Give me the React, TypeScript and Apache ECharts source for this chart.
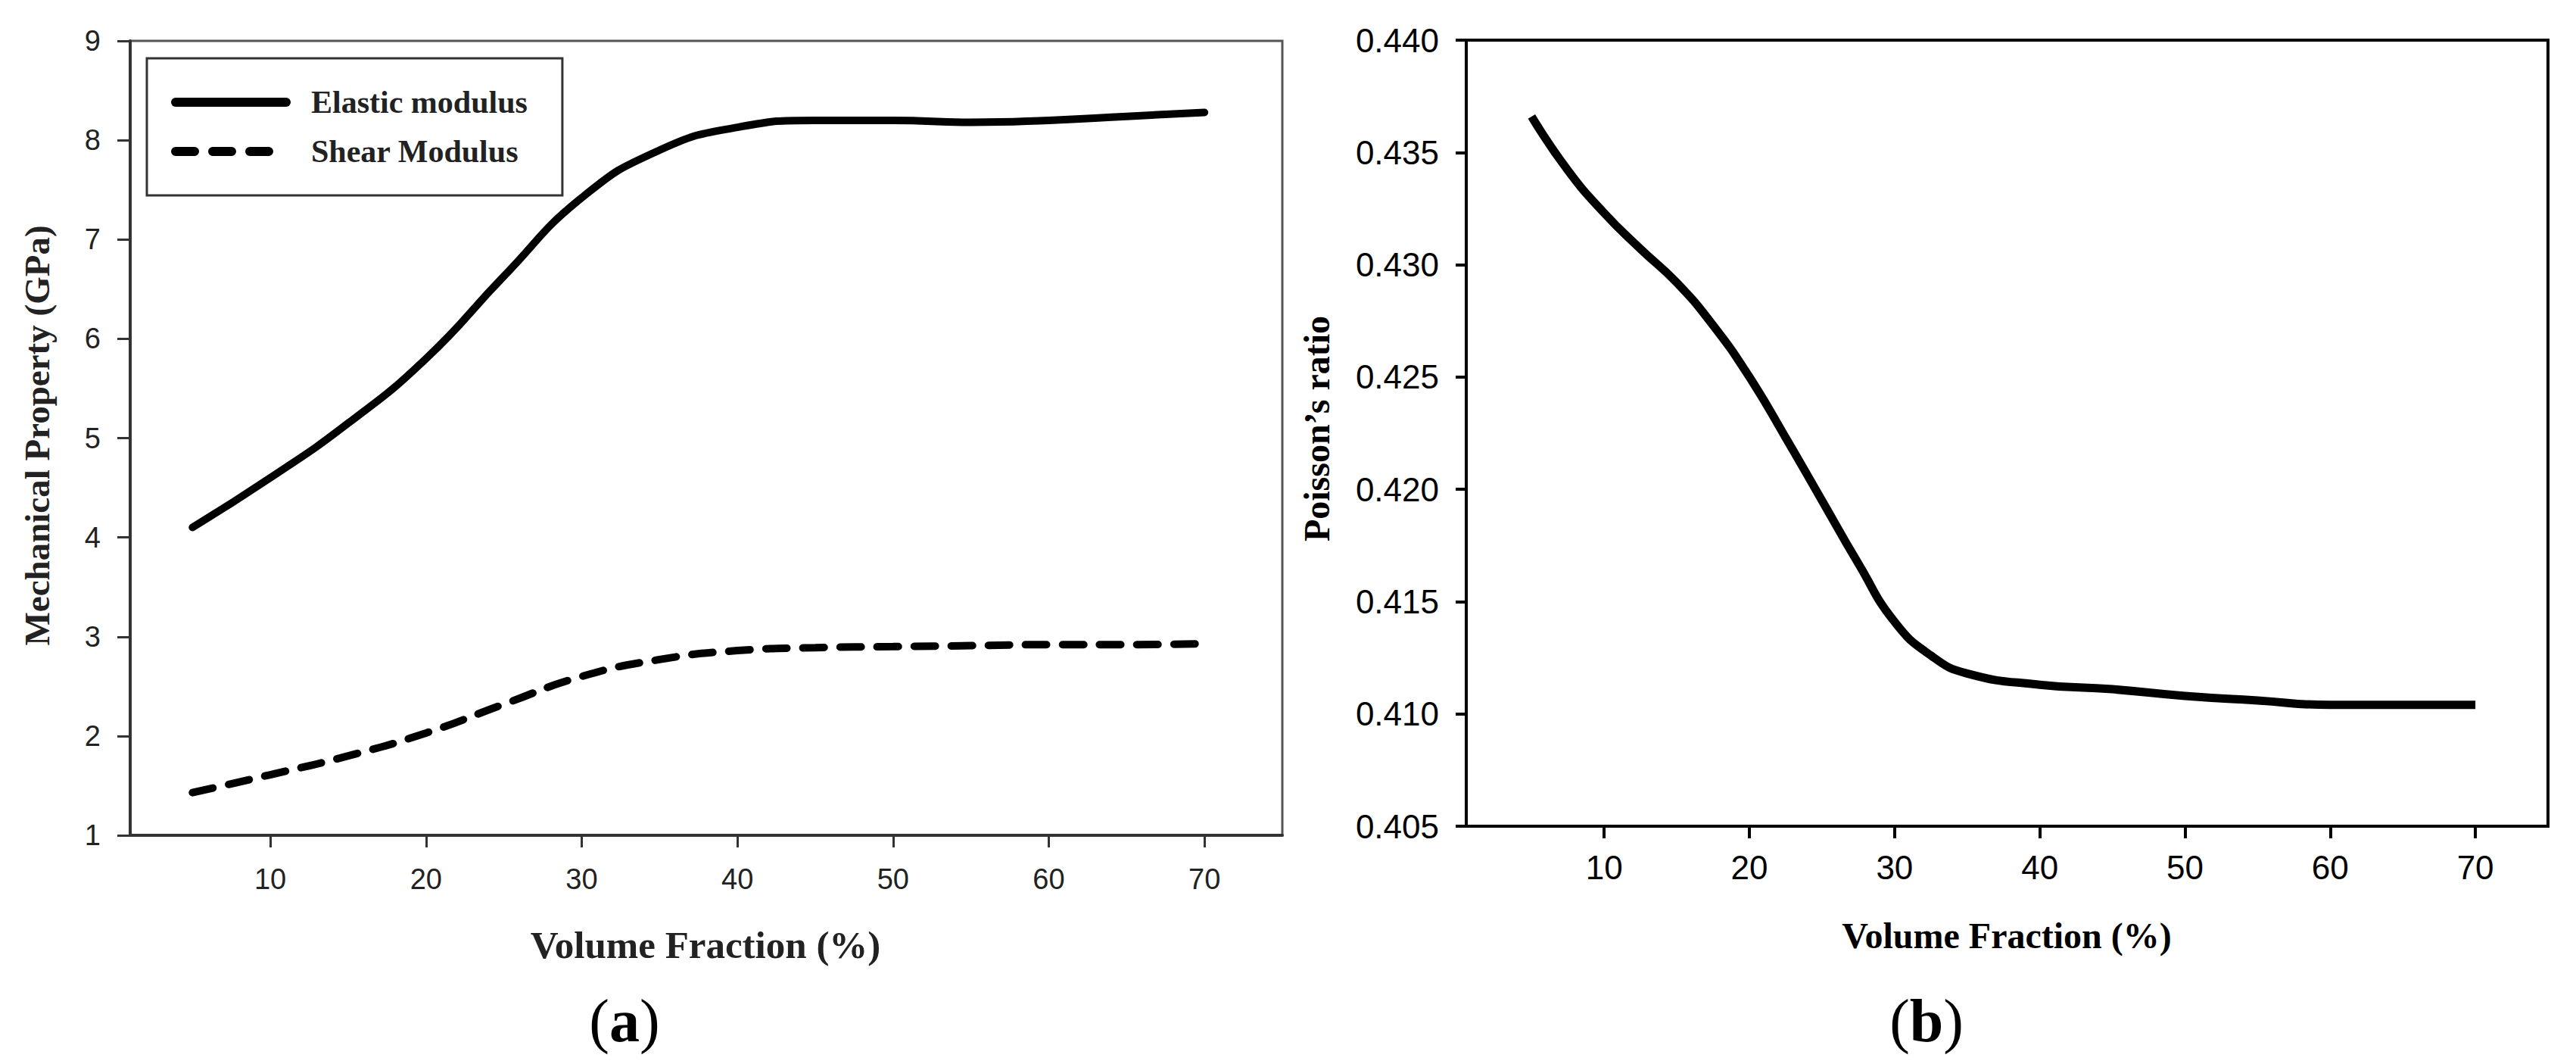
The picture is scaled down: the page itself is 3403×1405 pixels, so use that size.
import React, { useEffect, useRef } from "react";
import * as echarts from "echarts";

// ---- data ----
const volumeA = [5, 10, 15, 20, 25, 30, 35, 40, 45, 50, 55, 60, 65, 70];
const elasticModulus = [4.1, 4.6, 5.15, 5.8, 6.63, 7.42, 7.9, 8.13, 8.2, 8.2, 8.18, 8.2, 8.24, 8.28];
const shearModulus = [1.43, 1.61, 1.8, 2.03, 2.32, 2.6, 2.77, 2.86, 2.89, 2.9, 2.91, 2.92, 2.92, 2.93];

const volumeB = [5, 7.5, 10, 12.5, 15, 17.5, 20, 22.5, 25, 27.5, 30, 32.5, 35, 40, 45, 50, 55, 60, 65, 70];
const poissonRatio = [
  0.4366, 0.4342, 0.4323, 0.4307, 0.4292, 0.4273, 0.425, 0.4223, 0.4195, 0.4167,
  0.4141, 0.4126, 0.4118, 0.4113, 0.4111, 0.4108, 0.4106, 0.4104, 0.4104, 0.4104,
];

const xTicks = [10, 20, 30, 40, 50, 60, 70];
const yTicksA = [1, 2, 3, 4, 5, 6, 7, 8, 9];
const yTicksB = [0.405, 0.41, 0.415, 0.42, 0.425, 0.43, 0.435, 0.44];

const seriesNames = ["Elastic modulus", "Shear Modulus"];

const zip = (xs: number[], ys: number[]) => xs.map((x, i) => [x, ys[i]]);

const SANS = "'Liberation Sans', Arial, sans-serif";
const NARROW = "'Liberation Sans Narrow', 'Liberation Sans', Arial, sans-serif";
const SERIF = "'Liberation Serif', 'Times New Roman', serif";

export default function App() {
  const ref = useRef<HTMLDivElement>(null);
  useEffect(() => {
    if (!ref.current) return;
    const chart = echarts.init(ref.current, undefined, { renderer: "svg" });
    const option: any = {
      animation: false,
      backgroundColor: "#ffffff",
      grid: [
        { left: 172, top: 54, width: 1694 - 172, height: 1103 - 54, show: true, borderColor: "#555", borderWidth: 3, backgroundColor: "transparent" },
        { left: 1937, top: 53, width: 3366 - 1937, height: 1091 - 53, show: true, borderColor: "#000", borderWidth: 4, backgroundColor: "transparent" },
      ],
      xAxis: [
        {
          gridIndex: 0, type: "value", min: 1, max: 75,
          axisLine: { show: true, onZero: false, lineStyle: { color: "#333", width: 4 } },
          axisTick: { show: true, length: 16, customValues: xTicks, lineStyle: { color: "#333", width: 3 } },
          axisLabel: { customValues: xTicks, margin: 39, fontFamily: SANS, fontSize: 38, color: "#222" },
          splitLine: { show: false },
        },
        {
          gridIndex: 1, type: "value", min: 0.5, max: 75,
          axisLine: { show: true, onZero: false, lineStyle: { color: "#000", width: 4 } },
          axisTick: { show: true, length: 16, customValues: xTicks, lineStyle: { color: "#000", width: 4 } },
          axisLabel: { customValues: xTicks, margin: 32, fontFamily: NARROW, fontSize: 44, color: "#000" },
          splitLine: { show: false },
        },
      ],
      yAxis: [
        {
          gridIndex: 0, type: "value", min: 1, max: 9,
          axisLine: { show: true, onZero: false, lineStyle: { color: "#333", width: 4 } },
          axisTick: { show: true, length: 17, customValues: yTicksA, lineStyle: { color: "#333", width: 3 } },
          axisLabel: { customValues: yTicksA, margin: 39, fontFamily: SANS, fontSize: 38, color: "#222" },
          splitLine: { show: false },
        },
        {
          gridIndex: 1, type: "value", min: 0.405, max: 0.44,
          axisLine: { show: true, onZero: false, lineStyle: { color: "#000", width: 4 } },
          axisTick: { show: true, length: 14, customValues: yTicksB, lineStyle: { color: "#000", width: 4 } },
          axisLabel: {
            customValues: yTicksB, margin: 36, fontFamily: NARROW, fontSize: 44, color: "#000",
            formatter: (v: number) => v.toFixed(3),
          },
          splitLine: { show: false },
        },
      ],
      legend: {
        show: true,
        left: 194, top: 77,
        orient: "vertical",
        padding: [37, 46, 37, 32],
        itemWidth: 146, itemHeight: 30, itemGap: 23,
        borderColor: "#333", borderWidth: 3,
        backgroundColor: "#fff",
        itemStyle: { opacity: 0 },
        textStyle: { fontFamily: SERIF, fontWeight: "bold", fontSize: 42, color: "#222", padding: [0, 0, 0, 28] },
        data: [
          { name: seriesNames[0], itemStyle: { opacity: 0 }, lineStyle: { width: 12, color: "#000", type: "solid", cap: "round", opacity: 1 } },
          { name: seriesNames[1], itemStyle: { opacity: 0 }, lineStyle: { width: 12, color: "#000", type: [25, 24], cap: "round", opacity: 1 } },
        ],
      },
      series: [
        {
          name: seriesNames[0], type: "line", xAxisIndex: 0, yAxisIndex: 0,
          data: zip(volumeA, elasticModulus), smooth: 0.5, symbol: "none",
          lineStyle: { color: "#000", width: 10, cap: "round" }, itemStyle: { color: "#000" },
        },
        {
          name: seriesNames[1], type: "line", xAxisIndex: 0, yAxisIndex: 0,
          data: zip(volumeA, shearModulus), smooth: 0.5, symbol: "none",
          lineStyle: { color: "#000", width: 10, type: [28, 21], cap: "round" }, itemStyle: { color: "#000" },
        },
        {
          name: "Poisson's ratio", type: "line", xAxisIndex: 1, yAxisIndex: 1,
          data: zip(volumeB, poissonRatio), smooth: 0.5, symbol: "none",
          lineStyle: { color: "#000", width: 11 }, itemStyle: { color: "#000" },
        },
      ],
      graphic: [
        {
          type: "text", x: 49, y: 575, rotation: Math.PI / 2,
          style: { text: "Mechanical Property (GPa)", font: `bold 47px ${SERIF}`, fill: "#222", align: "center", verticalAlign: "middle" },
        },
        {
          type: "text", x: 932, y: 1248,
          style: { text: "Volume Fraction (%)", font: `bold 51px ${SERIF}`, fill: "#222", align: "center", verticalAlign: "middle" },
        },
        {
          type: "text", x: 1739, y: 566, rotation: Math.PI / 2,
          style: { text: "Poisson’s ratio", font: `bold 48px ${SERIF}`, fill: "#000", align: "center", verticalAlign: "middle" },
        },
        {
          type: "text", x: 2651, y: 1235,
          style: { text: "Volume Fraction (%)", font: `bold 48px ${SERIF}`, fill: "#000", align: "center", verticalAlign: "middle" },
        },
        {
          type: "text", x: 825, y: 1348,
          style: {
            text: "{p|(}{b|a}{p|)}", align: "center", verticalAlign: "middle",
            rich: {
              p: { fontFamily: SERIF, fontSize: 80, fontWeight: "normal", fill: "#000" },
              b: { fontFamily: SERIF, fontSize: 80, fontWeight: "bold", fill: "#000" },
            },
          },
        },
        {
          type: "text", x: 2545, y: 1348,
          style: {
            text: "{p|(}{b|b}{p|)}", align: "center", verticalAlign: "middle",
            rich: {
              p: { fontFamily: SERIF, fontSize: 80, fontWeight: "normal", fill: "#000" },
              b: { fontFamily: SERIF, fontSize: 80, fontWeight: "bold", fill: "#000" },
            },
          },
        },
      ],
    };
    chart.setOption(option);
    return () => chart.dispose();
  }, []);
  return (
    <div
      ref={ref}
      style={{ position: "absolute", left: 0, top: 0, width: 3403, height: 1405, background: "#fff" }}
    />
  );
}
